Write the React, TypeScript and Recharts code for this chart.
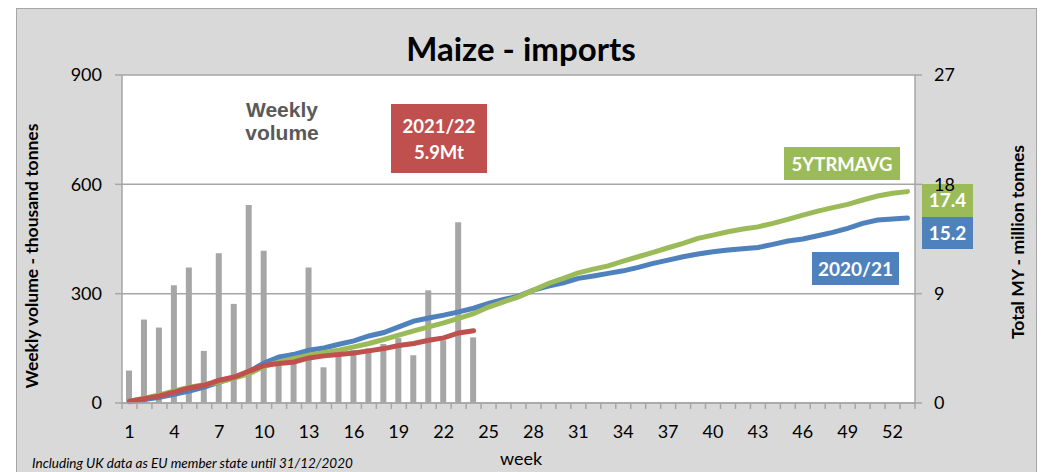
import React from 'react';
import { ComposedChart, Bar, Line, XAxis, YAxis, CartesianGrid } from 'recharts';

// marketing year weeks
const weeks = [
  1, 2, 3, 4, 5, 6, 7, 8, 9, 10, 11, 12, 13, 14, 15, 16, 17, 18, 19, 20,
  21, 22, 23, 24, 25, 26, 27, 28, 29, 30, 31, 32, 33, 34, 35, 36, 37, 38, 39, 40,
  41, 42, 43, 44, 45, 46, 47, 48, 49, 50, 51, 52, 53,
];

// weekly volume 2021/22, thousand tonnes
const weeklyVolume = [
  89, 229, 207, 323, 372, 143, 411, 272, 543, 418, 129, 140,
  372, 98, 140, 145, 150, 162, 178, 131, 309, 172, 496, 180,
];

// cumulative totals, million tonnes
const cum2122 = [
  0.14, 0.36, 0.58, 0.9, 1.24, 1.46, 1.87, 2.14, 2.62, 3.1, 3.25, 3.38,
  3.71, 3.88, 3.99, 4.12, 4.29, 4.48, 4.73, 4.9, 5.17, 5.36, 5.77, 5.94,
];

const cum2021 = [
  0.1, 0.28, 0.48, 0.72, 0.99, 1.3, 1.72, 2.08, 2.6, 3.3, 3.79, 3.99,
  4.34, 4.53, 4.84, 5.11, 5.52, 5.8, 6.27, 6.74, 7.0, 7.23, 7.5, 7.8,
  8.2, 8.52, 8.8, 9.29, 9.62, 9.9, 10.26, 10.45, 10.67, 10.88, 11.16, 11.49,
  11.76, 12.04, 12.26, 12.45, 12.59, 12.7, 12.8, 13.06, 13.33, 13.5, 13.77, 14.05,
  14.38, 14.79, 15.06, 15.14, 15.22,
];

const avg5yr = [
  0.15, 0.4, 0.66, 1.0, 1.3, 1.5, 1.73, 2.05, 2.42, 3.0, 3.38, 3.66,
  3.93, 4.15, 4.34, 4.62, 4.9, 5.23, 5.58, 5.94, 6.27, 6.6, 6.96, 7.35,
  7.9, 8.33, 8.74, 9.29, 9.84, 10.26, 10.72, 11.02, 11.29, 11.68, 12.04, 12.4,
  12.78, 13.14, 13.55, 13.82, 14.1, 14.32, 14.5, 14.79, 15.12, 15.47, 15.8, 16.08,
  16.35, 16.71, 17.04, 17.26, 17.4,
];

const leftTicks = [0, 300, 600, 900];
const rightTicks = [0, 9, 18, 27];

const data = weeks.map((w, i) => ({
  week: w,
  weekly: weeklyVolume[i],
  y2122: cum2122[i],
  y2021: cum2021[i],
  avg: avg5yr[i],
}));

const W = 1044;
const H = 472;
const PLOT_L = 122;
const PLOT_R = 915;
const PLOT_T = 75;
const PLOT_B = 403;
const BAND = (PLOT_R - PLOT_L) / weeks.length;
const FONT = 'Lato, "Open Sans", sans-serif';
const AXIS = '#a6a6a6';

const WeekTick = (props: any) => {
  const { x, y, payload, index } = props;
  const half = BAND / 2;
  return (
    <g>
      <line x1={x - half} x2={x - half} y1={y} y2={y + 6} stroke={AXIS} strokeWidth={1.5} />
      {index === weeks.length - 1 && (
        <line x1={x + half} x2={x + half} y1={y} y2={y + 6} stroke={AXIS} strokeWidth={1.5} />
      )}
      {index % 3 === 0 && (
        <text x={x} y={y + 35} textAnchor="middle" fontSize={18} fill="#000" fontFamily={FONT}>
          {payload.value}
        </text>
      )}
    </g>
  );
};

const Box = ({ x, y, w, h, fill, lines, base, size = 18.5 }: any) => (
  <g>
    <rect x={x} y={y} width={w} height={h} fill={fill} />
    {lines.map((t: string, i: number) => (
      <text key={t} x={x + w / 2} y={base[i]} textAnchor="middle" fontSize={size} fontWeight="bold" fill="#fff">
        {t}
      </text>
    ))}
  </g>
);

export default function App() {
  return (
    <div style={{ position: 'absolute', left: 0, top: 0, width: W, height: H, overflow: 'hidden', background: '#fff', fontFamily: FONT }}>
      <svg width={W} height={H} style={{ position: 'absolute', left: 0, top: 0 }} fontFamily={FONT}>
        <rect x={16.5} y={8.5} width={1020} height={480} fill="#d9d9d9" stroke="#a6a6a6" strokeWidth={1} />
        <rect x={PLOT_L} y={PLOT_T} width={PLOT_R - PLOT_L} height={PLOT_B - PLOT_T} fill="#fff" />

        <text x={521} y={61} textAnchor="middle" fontSize={33} fontWeight="bold" fill="#000">
          Maize - imports
        </text>

        <text x={282} y={117} textAnchor="middle" fontSize={21} fontWeight="bold" fill="#595959" fontFamily='"Liberation Sans", Arial, sans-serif'>
          Weekly
        </text>
        <text x={282} y={140} textAnchor="middle" fontSize={21} fontWeight="bold" fill="#595959" fontFamily='"Liberation Sans", Arial, sans-serif'>
          volume
        </text>

        <Box x={391} y={104} w={96} h={69} fill="#c0504d" lines={['2021/22', '5.9Mt']} base={[133, 159]} />
        <Box x={784} y={147} w={116} h={33} fill="#9bbb59" lines={['5YTRMAVG']} base={[170.5]} />
        <Box x={922} y={184} w={51} h={33} fill="#9bbb59" lines={['17.4']} base={[207]} size={19} />
        <Box x={922} y={217} w={51} h={32} fill="#4f81bd" lines={['15.2']} base={[240]} size={19} />
        <Box x={812} y={252} w={87} h={33} fill="#4f81bd" lines={['2020/21']} base={[276]} size={19} />

        <text transform="translate(38,256) rotate(-90)" textAnchor="middle" fontSize={17.5} fontWeight="bold" fill="#000">
          Weekly volume - thousand tonnes
        </text>
        <text transform="translate(1024,242) rotate(-90)" textAnchor="middle" fontSize={17.5} fontWeight="bold" fill="#000">
          Total MY - million tonnes
        </text>

        <text x={521} y={465} textAnchor="middle" fontSize={18} fill="#000">
          week
        </text>
        <text x={32} y={468} fontSize={13.5} fontStyle="italic" fill="#000">
          Including UK data as EU member state until 31/12/2020
        </text>
      </svg>

      <div style={{ position: 'absolute', left: 0, top: 0 }}>
        <ComposedChart
          width={W}
          height={H}
          data={data}
          margin={{ top: PLOT_T, right: 0, bottom: 0, left: 0 }}
          barCategoryGap={0}
        >
          <CartesianGrid yAxisId="left" vertical={false} stroke={AXIS} strokeWidth={1.5} />
          <XAxis
            dataKey="week"
            type="category"
            interval={0}
            height={H - PLOT_B}
            tickLine={false}
            tickSize={0}
            tickMargin={0}
            tick={<WeekTick />}
            axisLine={{ stroke: AXIS, strokeWidth: 1.5 }}
          />
          <YAxis
            yAxisId="left"
            width={PLOT_L}
            domain={[0, 900]}
            ticks={leftTicks}
            tickSize={7}
            tickMargin={13}
            tick={{ fontSize: 18, fill: '#000' }}
            tickLine={{ stroke: AXIS, strokeWidth: 1.5 }}
            axisLine={{ stroke: AXIS, strokeWidth: 1.5 }}
          />
          <YAxis
            yAxisId="right"
            orientation="right"
            width={W - PLOT_R}
            domain={[0, 27]}
            ticks={rightTicks}
            tickSize={7}
            tickMargin={12}
            tick={{ fontSize: 18, fill: '#000', textAnchor: 'start' }}
            tickLine={{ stroke: AXIS, strokeWidth: 1.5 }}
            axisLine={{ stroke: AXIS, strokeWidth: 1.5 }}
          />
          <Bar yAxisId="left" dataKey="weekly" fill="#a6a6a6" barSize={6} isAnimationActive={false} />
          <Line yAxisId="right" type="linear" dataKey="y2021" stroke="#4f81bd" strokeWidth={5} strokeLinecap="round" dot={false} activeDot={false} isAnimationActive={false} />
          <Line yAxisId="right" type="linear" dataKey="avg" stroke="#9bbb59" strokeWidth={5} strokeLinecap="round" dot={false} activeDot={false} isAnimationActive={false} />
          <Line yAxisId="right" type="linear" dataKey="y2122" stroke="#c0504d" strokeWidth={5} strokeLinecap="round" dot={false} activeDot={false} isAnimationActive={false} />
        </ComposedChart>
      </div>
    </div>
  );
}
